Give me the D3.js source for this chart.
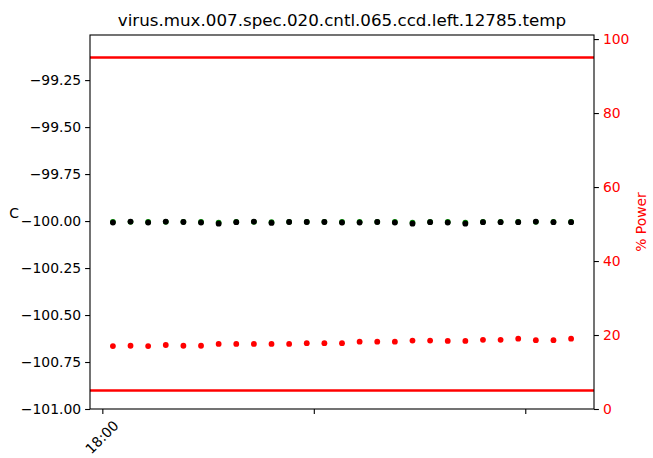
<!DOCTYPE html>
<html>
<head>
<meta charset="utf-8">
<script src="https://cdn.jsdelivr.net/npm/d3@7"></script>
<style>
  body { margin: 0; background: #fff; }
  svg text { font-family: "DejaVu Sans", sans-serif; }
</style>
</head>
<body>
<div id="chart"></div>
<script>
// sample times (every reading) and the three series
const times = ["18:03", "18:08", "18:13", "18:18", "18:23", "18:28", "18:33", "18:38", "18:43",
  "18:48", "18:53", "18:58", "19:03", "19:08", "19:13", "19:18", "19:23", "19:28",
  "19:33", "19:38", "19:43", "19:48", "19:53", "19:58", "20:03", "20:08", "20:13"];

const tempValues = [-100.008, -100.003, -100.008, -100.003, -100.005, -100.008, -100.014, -100.006, -100.003,
  -100.010, -100.005, -100.005, -100.005, -100.008, -100.008, -100.005, -100.008, -100.014,
  -100.006, -100.008, -100.014, -100.006, -100.006, -100.006, -100.003, -100.006, -100.006];

const setpointValues = [-100.004, -100.004, -100.005, -100.004, -100.004, -100.005, -100.008, -100.004, -100.004,
  -100.006, -100.004, -100.004, -100.004, -100.005, -100.004, -100.004, -100.005, -100.008,
  -100.004, -100.005, -100.008, -100.004, -100.004, -100.004, -100.004, -100.004, -100.004];

const powerValues = [17.0, 17.1, 17.0, 17.3, 17.1, 17.1, 17.6, 17.6, 17.6,
  17.6, 17.6, 17.8, 17.8, 17.8, 18.2, 18.2, 18.2, 18.5,
  18.5, 18.4, 18.4, 18.7, 18.7, 19.0, 18.6, 18.6, 19.0];

const powerLimits = [5, 95];

const leftTicks = [-101.00, -100.75, -100.50, -100.25, -100.00, -99.75, -99.50, -99.25];
const rightTicks = [0, 20, 40, 60, 80, 100];
const xTickTimes = ["18:00", "19:00", "20:00"];
const xTickLabels = ["18:00", "", ""];

const title = "virus.mux.007.spec.020.cntl.065.ccd.left.12785.temp";

const width = 653, height = 458;
const margin = { top: 35, right: 59, bottom: 49, left: 90 };
const innerWidth = width - margin.left - margin.right;
const innerHeight = height - margin.top - margin.bottom;

const parseTime = d3.timeParse("%H:%M");
const tDates = times.map(parseTime);

const svg = d3.select("#chart").append("svg")
  .attr("width", width)
  .attr("height", height);

const g = svg.append("g")
  .attr("transform", `translate(${margin.left},${margin.top})`);

// x domain with 5% padding like matplotlib
const tExt = d3.extent(tDates);
const pad = (tExt[1] - tExt[0]) * 0.05;
const x = d3.scaleTime()
  .domain([new Date(+tExt[0] - pad), new Date(+tExt[1] + pad)])
  .range([0, innerWidth]);

const yLeft = d3.scaleLinear().domain([-101, -99.01]).range([innerHeight, 0]);
const yRight = d3.scaleLinear().domain([0, 101.1]).range([innerHeight, 0]);

const minus = s => s.replace("-", "\u2212");

// left axis
const leftAxis = g.append("g")
  .call(d3.axisLeft(yLeft).tickValues(leftTicks).tickSize(4.9).tickPadding(4)
    .tickFormat(d => minus(d3.format(".2f")(d))));

// right axis
const rightAxis = g.append("g")
  .attr("transform", `translate(${innerWidth},0)`)
  .call(d3.axisRight(yRight).tickValues(rightTicks).tickSize(4.9).tickPadding(4)
    .tickFormat(d3.format("d")));

// bottom axis
const xAxis = g.append("g")
  .attr("transform", `translate(0,${innerHeight})`)
  .call(d3.axisBottom(x).tickValues(xTickTimes.map(parseTime)).tickSize(4.9)
    .tickFormat((d, i) => xTickLabels[i]));

[leftAxis, rightAxis, xAxis].forEach(a => {
  a.select(".domain").remove();
  a.selectAll(".tick line").attr("stroke", "#000").attr("stroke-width", 1.1);
  a.selectAll("text").attr("font-size", 13.9).attr("fill", "#000");
});
rightAxis.selectAll("text").attr("fill", "#ff0000");

// only the first time tick carries a label
xAxis.selectAll("text").filter(function() { return this.textContent === ""; }).remove();
xAxis.selectAll("text")
  .attr("text-anchor", "middle")
  .attr("dominant-baseline", "central")
  .attr("dy", null)
  .attr("y", 0)
  .attr("transform", "translate(-1,28) rotate(-45)");

// series on the left axis
g.append("g").selectAll("circle")
  .data(setpointValues)
  .join("circle")
  .attr("cx", (d, i) => x(tDates[i]))
  .attr("cy", d => yLeft(d))
  .attr("r", 2.9)
  .attr("fill", "#008000");

g.append("g").selectAll("circle")
  .data(tempValues)
  .join("circle")
  .attr("cx", (d, i) => x(tDates[i]))
  .attr("cy", d => yLeft(d))
  .attr("r", 2.9)
  .attr("fill", "#000");

// series on the right axis
g.append("g").selectAll("line")
  .data(powerLimits)
  .join("line")
  .attr("x1", 0)
  .attr("x2", innerWidth)
  .attr("y1", d => yRight(d))
  .attr("y2", d => yRight(d))
  .attr("stroke", "#ff0000")
  .attr("stroke-width", 2.6);

g.append("g").selectAll("circle")
  .data(powerValues)
  .join("circle")
  .attr("cx", (d, i) => x(tDates[i]))
  .attr("cy", d => yRight(d))
  .attr("r", 2.9)
  .attr("fill", "#ff0000");

// frame
g.append("rect")
  .attr("width", innerWidth)
  .attr("height", innerHeight)
  .attr("fill", "none")
  .attr("stroke", "#000")
  .attr("stroke-width", 1.1);

// titles
svg.append("text")
  .attr("x", margin.left + innerWidth / 2)
  .attr("y", 26)
  .attr("text-anchor", "middle")
  .attr("font-size", 16.7)
  .text(title);

svg.append("text")
  .attr("x", 14)
  .attr("y", 218)
  .attr("text-anchor", "middle")
  .attr("font-size", 13.9)
  .text("C");

svg.append("text")
  .attr("transform", `translate(641,${margin.top + innerHeight / 2}) rotate(-90)`)
  .attr("text-anchor", "middle")
  .attr("dominant-baseline", "central")
  .attr("font-size", 13.9)
  .attr("fill", "#ff0000")
  .text("% Power");
</script>
</body>
</html>
